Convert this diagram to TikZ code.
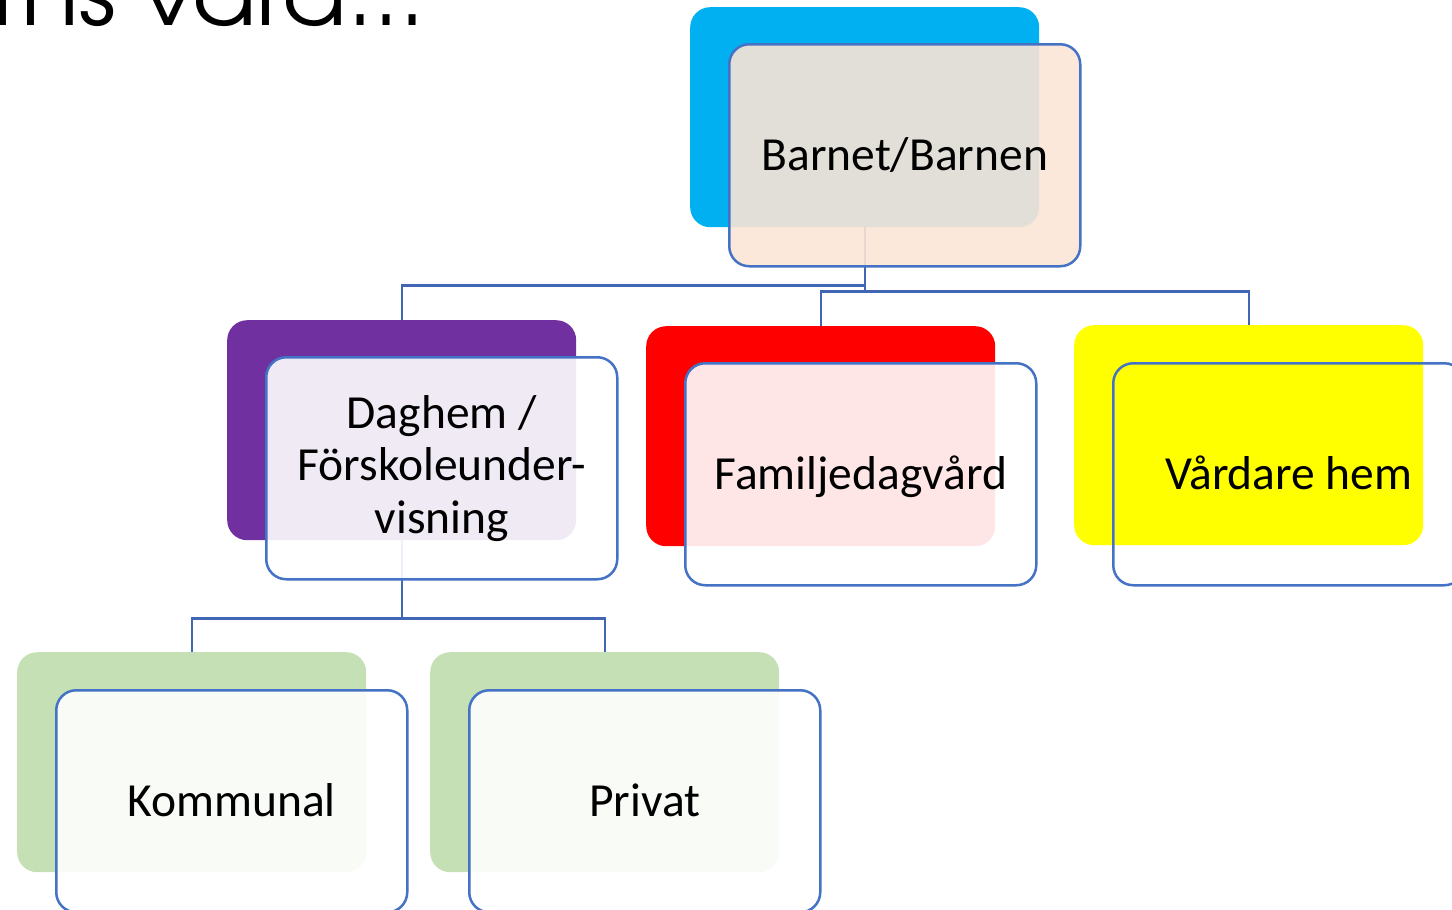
\documentclass[tikz,border=0pt]{standalone}
\usepackage{fontspec}
\setmainfont{Carlito}
\newfontfamily\titlefont[FakeStretch=1.1]{texgyreadventor-regular.otf}
\definecolor{lineblue}{HTML}{4472C4}
\definecolor{connblue}{HTML}{4166B4}
\definecolor{cblue}{HTML}{00B0F0}
\definecolor{cpurple}{HTML}{7030A0}
\definecolor{cred}{HTML}{FF0000}
\definecolor{cyellow}{HTML}{FFFF00}
\definecolor{cgreen}{HTML}{C5E0B4}
\definecolor{cpeach}{HTML}{FBE5D6}
\begin{document}
\begin{tikzpicture}[x=1pt,y=-1pt,
  backbox/.style={rectangle, rounded corners=20pt, minimum width=349pt, minimum height=220pt,
    anchor=north west, inner sep=0pt, draw=none},
  frontbox/.style={rectangle, rounded corners=20pt, minimum width=351pt, minimum height=222pt,
    anchor=north west, draw=lineblue, line width=2.5pt, fill=white, fill opacity=0.9,
    text opacity=1, draw opacity=1, align=center, text=black,
    font=\fontsize{47.5}{52.5}\selectfont, inner sep=0pt},
  oneline/.style={text height=40pt, text depth=9.4pt},
  conn/.style={draw=connblue, line width=2.2pt}]
\useasboundingbox (0,0) rectangle (1452,910);
\clip (0,0) rectangle (1452,910);
% title (cut off)
\node[anchor=base east, inner sep=0pt, font=\titlefont\fontsize{86}{86}\selectfont, text=black] (title) at (426,25) {Barns vård...};
% back boxes
\node[backbox, fill=cblue]   (barB) at (690,7) {};
\node[backbox, fill=cpurple] (dagB) at (227,320) {};
\node[backbox, fill=cred]    (famB) at (646,326) {};
\node[backbox, fill=cyellow] (varB) at (1074,325) {};
\node[backbox, fill=cgreen]  (komB) at (17,652) {};
\node[backbox, fill=cgreen]  (priB) at (430,652) {};
% connectors
\draw[conn] (barB.south) -- ++(0,58) -| (dagB.north);
\draw[conn] (barB.south) -- ++(0,64) -| (famB.north);
\draw[conn] (barB.south) -- ++(0,64) -| (varB.north);
\draw[conn] (dagB.south) -- ++(0,78) -| (komB.north);
\draw[conn] (dagB.south) -- ++(0,78) -| (priB.north);
% front boxes
\node[frontbox, oneline, fill=cpeach] (barF) at (728,43) {Barnet/Barnen};
\node[frontbox] (dagF) at (265,356) {Daghem /\\Förskoleunder-\\visning};
\node[frontbox, oneline] (famF) at (684,362) {Familjedagvård};
\node[frontbox, oneline, fill opacity=0] (varF) at (1112,362) {Vårdare hem};
\node[frontbox, oneline] (komF) at (55,689) {Kommunal};
\node[frontbox, oneline] (priF) at (468,689) {Privat};
\end{tikzpicture}
\end{document}
